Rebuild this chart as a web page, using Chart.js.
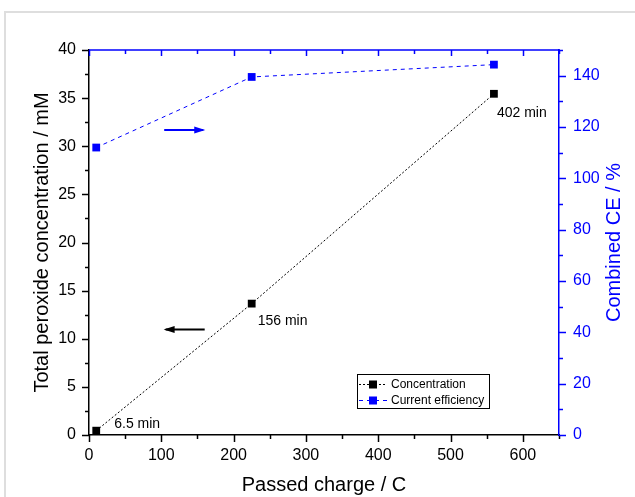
<!DOCTYPE html>
<html>
<head>
<meta charset="utf-8">
<script src="https://cdn.jsdelivr.net/npm/chart.js@4.4.1/dist/chart.umd.min.js"></script>
<style>
  html, body { margin: 0; padding: 0; background: #fff; overflow: hidden; }
  #frame { position: absolute; left: 4px; top: 11px; width: 800px; height: 700px; border: 2px solid #dedede; }
  #chart { position: absolute; left: 0; top: 0; }
</style>
</head>
<body>
<div id="frame"></div>
<canvas id="chart" width="635" height="497"></canvas>
<script>
// passed charge (C) for each sample
const charge = [10, 225, 560];
// total peroxide concentration (mM)
const concentration = [0.45, 13.65, 35.45];
// combined current efficiency (%)
const efficiency = [112, 139.5, 144.3];
// electrolysis time next to each concentration point
const timeLabels = ['6.5 min', '156 min', '402 min'];

const xTicks = [0, 100, 200, 300, 400, 500, 600];
const leftTicks = [0, 5, 10, 15, 20, 25, 30, 35, 40];
const rightTicks = [0, 20, 40, 60, 80, 100, 120, 140];

const BLUE = '#0000ff';
const FONT = '"Liberation Sans", Arial, sans-serif';

function setTicks(list) {
  return scale => { scale.ticks = list.map(v => ({ value: v })); };
}

// minor/major tick marks and the extra decorations
const decorations = {
  id: 'decorations',
  afterDraw(chart) {
    const ctx = chart.ctx;
    const { left, right, top, bottom } = chart.chartArea;
    const x = chart.scales.x, yl = chart.scales.y, yr = chart.scales.y2;
    ctx.save();
    ctx.lineWidth = 1.5;

    // left axis ticks
    ctx.strokeStyle = '#000';
    for (let v = 0; v <= 40; v += 2.5) {
      const p = Math.round(yl.getPixelForValue(v)) + 0.5;
      const len = v % 5 === 0 ? 7 : 4;
      ctx.beginPath(); ctx.moveTo(left, p); ctx.lineTo(left - len, p); ctx.stroke();
    }
    // bottom axis ticks
    for (let v = 0; v <= 650; v += 50) {
      const p = Math.round(x.getPixelForValue(v)) + 0.5;
      const len = v % 100 === 0 ? 7 : 4;
      ctx.beginPath(); ctx.moveTo(p, bottom); ctx.lineTo(p, bottom + len); ctx.stroke();
    }
    // right axis ticks
    ctx.strokeStyle = BLUE;
    for (let v = 0; v <= 150; v += 10) {
      const p = Math.round(yr.getPixelForValue(v)) + 0.5;
      const len = v % 20 === 0 ? 7 : 4;
      ctx.beginPath(); ctx.moveTo(right, p); ctx.lineTo(right + len, p); ctx.stroke();
    }
    // top axis line + inward ticks
    ctx.beginPath(); ctx.moveTo(left, top); ctx.lineTo(right + 1, top); ctx.stroke();
    for (let v = 0; v <= 650; v += 50) {
      const p = Math.round(x.getPixelForValue(v)) + 0.5;
      const len = v % 100 === 0 ? 6 : 4;
      ctx.beginPath(); ctx.moveTo(p, top); ctx.lineTo(p, top + len); ctx.stroke();
    }

    // right axis title, reading bottom to top
    ctx.fillStyle = BLUE;
    ctx.font = '20px ' + FONT;
    ctx.textAlign = 'center';
    ctx.textBaseline = 'middle';
    ctx.translate(614, (top + bottom) / 2);
    ctx.rotate(-Math.PI / 2);
    ctx.fillText('Combined CE / %', 0, 0);
    ctx.setTransform(1, 0, 0, 1, 0, 0);

    // time labels beside concentration points
    const offs = [[18, -7], [6, 18], [3, 19]];
    ctx.fillStyle = '#000';
    ctx.font = '14px ' + FONT;
    ctx.textAlign = 'left';
    charge.forEach((c, i) => {
      const px = x.getPixelForValue(c), py = yl.getPixelForValue(concentration[i]);
      ctx.fillText(timeLabels[i], px + offs[i][0], py + offs[i][1]);
    });

    // arrows pointing to each series' axis
    function arrow(x1, x2, y, color, dir) {
      const a = x.getPixelForValue(x1), b = x.getPixelForValue(x2), py = yl.getPixelForValue(y);
      ctx.strokeStyle = color; ctx.fillStyle = color; ctx.lineWidth = 2;
      ctx.beginPath(); ctx.moveTo(a, py); ctx.lineTo(b, py); ctx.stroke();
      const tip = dir > 0 ? b : a;
      ctx.beginPath();
      ctx.moveTo(tip + dir * 2, py);
      ctx.lineTo(tip - dir * 9, py - 3.5);
      ctx.lineTo(tip - dir * 9, py + 3.5);
      ctx.closePath(); ctx.fill();
    }
    arrow(104, 158, 31.7, BLUE, 1);
    arrow(106, 160, 10.95, '#000', -1);

    // legend box
    const lx = 357, ly = 374, lw = 132, lh = 34;
    ctx.lineWidth = 1;
    ctx.strokeStyle = '#000';
    ctx.strokeRect(lx + 0.5, ly + 0.5, lw, lh);
    const rows = [
      { text: 'Concentration', color: '#000', dash: [2, 2] },
      { text: 'Current efficiency', color: BLUE, dash: [4, 4] }
    ];
    ctx.font = '12px ' + FONT;
    rows.forEach((r, i) => {
      const cy = ly + 10 + i * 16;
      ctx.strokeStyle = r.color;
      ctx.setLineDash(r.dash);
      ctx.beginPath(); ctx.moveTo(lx + 2, cy + 0.5); ctx.lineTo(lx + 30, cy + 0.5); ctx.stroke();
      ctx.setLineDash([]);
      ctx.fillStyle = r.color;
      ctx.fillRect(lx + 12, cy - 3.5, 8, 8);
      ctx.fillStyle = '#000';
      ctx.fillText(r.text, lx + 34, cy + 1);
    });
    ctx.restore();
  }
};

new Chart(document.getElementById('chart'), {
  type: 'scatter',
  data: {
    datasets: [
      {
        label: 'Concentration',
        data: charge.map((c, i) => ({ x: c, y: concentration[i] })),
        yAxisID: 'y',
        showLine: true,
        borderColor: '#000',
        borderWidth: 1,
        borderDash: [2, 2],
        backgroundColor: '#000',
        pointStyle: 'rect',
        pointRadius: 5.5,
        pointBorderWidth: 0
      },
      {
        label: 'Current efficiency',
        data: charge.map((c, i) => ({ x: c, y: efficiency[i] })),
        yAxisID: 'y2',
        showLine: true,
        borderColor: BLUE,
        borderWidth: 1,
        borderDash: [4, 4],
        backgroundColor: BLUE,
        pointStyle: 'rect',
        pointRadius: 5.5,
        pointBorderWidth: 0
      }
    ]
  },
  options: {
    responsive: false,
    animation: false,
    layout: { padding: { top: 50, left: 0, right: 0, bottom: 0 } },
    plugins: { legend: { display: false }, tooltip: { enabled: false } },
    scales: {
      x: {
        type: 'linear', min: 0, max: 650,
        afterBuildTicks: setTicks(xTicks),
        afterFit: s => { s.height = 62; },
        grid: { display: false, drawTicks: false },
        border: { display: true, color: '#000', width: 1.5 },
        ticks: { color: '#000', padding: 11, maxRotation: 0, font: { family: FONT, size: 16 } },
        title: { display: true, text: 'Passed charge / C', color: '#000', padding: { top: 0, bottom: 0 }, font: { family: FONT, size: 20 } }
      },
      y: {
        type: 'linear', position: 'left', min: 0, max: 40,
        afterBuildTicks: setTicks(leftTicks),
        afterFit: s => { s.width = 89; },
        grid: { display: false, drawTicks: false },
        border: { display: true, color: '#000', width: 1.5 },
        ticks: { color: '#000', padding: 13, font: { family: FONT, size: 16 } },
        title: { display: true, text: 'Total peroxide concentration / mM', color: '#000', padding: { top: 30, bottom: 0 }, font: { family: FONT, size: 20 } }
      },
      y2: {
        type: 'linear', position: 'right', min: 0, max: 150,
        afterBuildTicks: setTicks(rightTicks),
        afterFit: s => { s.width = 76; },
        grid: { display: false, drawTicks: false },
        border: { display: true, color: BLUE, width: 1.5 },
        ticks: { color: BLUE, padding: 14, font: { family: FONT, size: 16 } }
      }
    }
  },
  plugins: [decorations]
});
</script>
</body>
</html>
